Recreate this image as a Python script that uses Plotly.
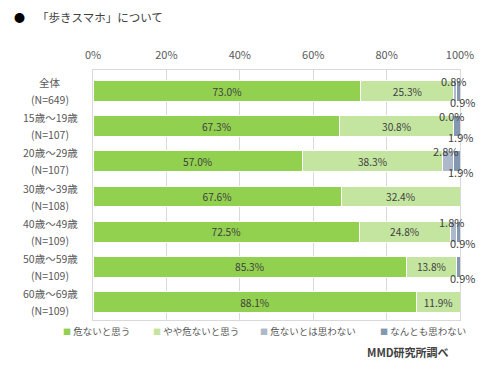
import plotly.graph_objects as go

categories = ["全体", "15歳～19歳", "20歳～29歳", "30歳～39歳", "40歳～49歳", "50歳～59歳", "60歳～69歳"]
sample_sizes = ["(N=649)", "(N=107)", "(N=107)", "(N=108)", "(N=109)", "(N=109)", "(N=109)"]
series_names = ["危ないと思う", "やや危ないと思う", "危ないとは思わない", "なんとも思わない"]
danger = [73.0, 67.3, 57.0, 67.6, 72.5, 85.3, 88.1]
somewhat = [25.3, 30.8, 38.3, 32.4, 24.8, 13.8, 11.9]
not_danger = [0.8, 0.0, 2.8, 0.0, 1.8, 0.0, 0.0]
nothing = [0.9, 1.9, 1.9, 0.0, 0.9, 0.9, 0.0]
# which small labels are shown in the source
show_not_danger = [True, True, True, False, True, False, False]
show_nothing = [True, True, True, False, True, True, False]
tick_vals = [0, 20, 40, 60, 80, 100]
tick_text = ["0%", "20%", "40%", "60%", "80%", "100%"]

colors = ["#92D050", "#C4E5A0", "#ADB9CA", "#8497B0"]
values = [danger, somewhat, not_danger, nothing]
FONT = "Noto Sans CJK JP"
TXT = "#404040"

fig = go.Figure()
for i, (name, vals) in enumerate(zip(series_names, values)):
    fig.add_trace(go.Bar(
        y=categories, x=vals, orientation="h", name=name,
        marker=dict(color=colors[i], line=dict(color="white", width=1)),
        text=[f"{v:.1f}%" for v in vals] if i < 2 else None,
        textposition="inside", insidetextanchor="middle",
        textfont=dict(family=FONT, size=11, color=TXT),
        showlegend=False, hoverinfo="x+name",
    ))

annotations = []
for k, cat in enumerate(categories):
    base = danger[k] + somewhat[k]
    if show_not_danger[k]:
        annotations.append(dict(x=base + not_danger[k] / 2, y=cat, xref="x", yref="y",
                                text=f"{not_danger[k]:.1f}%", showarrow=False, yshift=10, xshift=-2,
                                font=dict(family=FONT, size=11, color=TXT)))
    if show_nothing[k]:
        annotations.append(dict(x=base + not_danger[k] + nothing[k] / 2, y=cat, xref="x", yref="y",
                                text=f"{nothing[k]:.1f}%", showarrow=False, yshift=-11, xshift=4,
                                font=dict(family=FONT, size=11, color=TXT)))
    annotations.append(dict(x=-0.117, y=cat, xref="paper", yref="y", text=cat, showarrow=False,
                            yshift=8.5, xanchor="center", font=dict(family=FONT, size=10.5, color="#595959")))
    annotations.append(dict(x=-0.117, y=cat, xref="paper", yref="y", text=sample_sizes[k], showarrow=False,
                            yshift=-8.5, xanchor="center", font=dict(family=FONT, size=10.5, color="#595959")))

# legend as text with colored squares (pixel positions relative to reference plot box 93..460 x 70..320)
legend_x = [61, 151, 258, 378]
for name, col, lx in zip(series_names, colors, legend_x):
    annotations.append(dict(x=(lx - 93) / 367, y=-(331 - 320) / 250, xref="paper", yref="paper",
                            xanchor="left", yanchor="middle", showarrow=False,
                            text=f'<span style="color:{col}; font-size:8px">■</span> {name}',
                            font=dict(family=FONT, size=9.5, color="#595959")))

# title
annotations.append(dict(x=(12 - 93) / 367, y=1 + (70 - 17) / 250, xref="paper", yref="paper",
                        text="●", showarrow=False, xanchor="left", yanchor="middle",
                        font=dict(family=FONT, size=11, color="black")))
annotations.append(dict(x=(35 - 93) / 367, y=1 + (70 - 17) / 250, xref="paper", yref="paper",
                        text="「歩きスマホ」について", showarrow=False, xanchor="left", yanchor="middle",
                        font=dict(family=FONT, size=11.5, color="#404040")))
# source
annotations.append(dict(x=(451 - 93) / 367, y=-(352 - 320) / 250, xref="paper", yref="paper",
                        text="<b>MMD研究所調べ</b>", showarrow=False, xanchor="right", yanchor="middle",
                        font=dict(family=FONT, size=11, color="#404040")))

# page body adds an 8px offset, so the figure is shifted by -8px to compensate
fig.update_layout(
    width=500, height=374,
    margin=dict(l=85, r=48, t=62, b=62, autoexpand=False),
    barmode="stack", bargap=0.41,
    plot_bgcolor="white", paper_bgcolor="white",
    font=dict(family=FONT, size=11, color="#595959"),
    annotations=annotations,
    showlegend=False,
    xaxis=dict(side="top", range=[0, 100], tickvals=tick_vals, ticktext=tick_text,
               showgrid=True, gridcolor="#D9D9D9", gridwidth=1, zeroline=False,
               showline=True, linecolor="#D9D9D9", mirror=True, automargin=False,
               ticks="", ticklabelstandoff=6, tickfont=dict(family=FONT, size=11, color="#595959"),
               fixedrange=True),
    yaxis=dict(autorange="reversed", showticklabels=False, showgrid=False, automargin=False,
               showline=True, linecolor="#D9D9D9", mirror=True, fixedrange=True),
)

fig.write_html("out.html")
